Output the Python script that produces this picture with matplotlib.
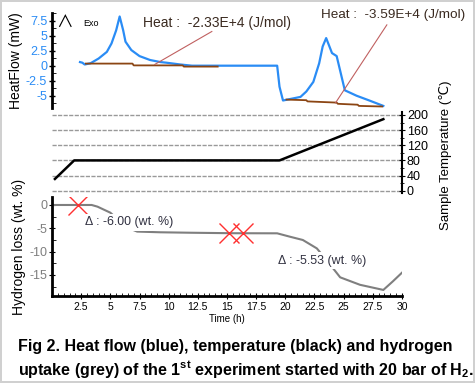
import numpy as np
import matplotlib
matplotlib.use("Agg")
import matplotlib.pyplot as plt
from matplotlib.ticker import MultipleLocator, FuncFormatter

plt.rcParams['font.family'] = ['Liberation Sans', 'DejaVu Sans']
plt.rcParams['axes.unicode_minus'] = False
plt.rcParams['mathtext.fontset'] = 'custom'
plt.rcParams['mathtext.bf'] = 'Liberation Sans:bold'
plt.rcParams['mathtext.rm'] = 'Liberation Sans'

# heat flow (mW) vs time (h)
heat_t = [2.4, 2.6, 2.8, 3.3, 4.0, 4.7, 5.1, 5.5, 5.8, 6.1, 6.3, 6.8, 7.5, 8.4, 9.3, 9.8, 11.0, 12.0,
          19.3, 19.5, 19.8, 21.3, 21.8, 22.4, 22.9, 23.2, 23.5, 23.7, 24.0, 24.4, 25.1, 26.1, 27.2, 28.4]
heat_v = [0.6, 0.5, 0.2, 0.4, 1.2, 2.3, 3.7, 5.9, 8.2, 5.9, 4.0, 2.6, 1.6, 0.95, 0.6, 0.5, 0.2, 0.0,
          0.0, -3.5, -5.8, -5.2, -4.3, -2.7, 0.4, 3.2, 4.6, 3.6, 2.1, 1.6, -4.1, -5.0, -5.8, -6.7]
# integration baselines
base1_t = [2.9, 6.9, 7.0, 11.2, 11.3, 14.2]
base1_v = [0.35, 0.35, 0.05, 0.05, -0.15, -0.15]
base2_t = [20.1, 21.8, 21.9, 24.4, 24.5, 26.2, 26.3, 28.3]
base2_v = [-5.65, -5.75, -5.95, -6.15, -6.35, -6.5, -6.7, -6.8]
heat_labels = ["Heat :  -2.33E+4 (J/mol)", "Heat :  -3.59E+4 (J/mol)"]

# sample temperature
temp_t = [0.25, 1.9, 19.5, 28.4]
temp_v = [31, 80, 80, 189]

# hydrogen loss (wt. %)
h2_t = [0.0, 3.4, 3.9, 5.0, 5.6, 6.2, 6.8, 7.3, 9.3, 12.0, 15.5, 19.3, 20.4, 21.5, 22.7,
        23.2, 23.7, 24.1, 24.7, 26.4, 28.4, 29.2, 30.0]
h2_v = [0.0, 0.0, -0.36, -1.65, -3.0, -4.3, -5.2, -5.7, -5.85, -5.95, -6.05, -6.07, -6.8, -7.5, -9.3,
        -10.8, -12.5, -13.6, -15.5, -17.1, -18.2, -16.4, -14.5]
mark_t = [2.2, 15.2, 16.4]
mark_v = [0.0, -6.05, -6.05]
delta_labels = ["\u0394 : -6.00 (wt. %)", "\u0394 : -5.53 (wt. %)"]

W, H = 475, 383
fig = plt.figure(figsize=(W / 100, H / 100), dpi=100)
fig.patch.set_edgecolor('#d0d0d0')
fig.patch.set_linewidth(1.5)


def px_axes(x0, y0, x1, y1):
    return fig.add_axes([x0 / W, 1 - y1 / H, (x1 - x0) / W, (y1 - y0) / H])


fmt = FuncFormatter(lambda v, p: '{:g}'.format(v))
blue = '#2a8cf5'

# ---- heat flow
ax1 = px_axes(52, 13, 402, 108)
ax1.patch.set_visible(False)
ax1.plot(heat_t, heat_v, color=blue, lw=1.6)
ax1.plot(base1_t, base1_v, color='#8b4513', lw=1.3)
ax1.plot(base2_t, base2_v, color='#8b4513', lw=1.3)
ax1.plot([8.8, 13.7], [0.2, 5.7], color='#c06060', lw=0.8)
ax1.plot([24.3, 28.7], [-6.2, 6.8], color='#c06060', lw=0.8)
ax1.text(7.8, 7.1, heat_labels[0], fontsize=10, color='#3a2a20', va='center')
ax1.text(23.1, 8.45, heat_labels[1], fontsize=9.7, color='#3a2a20', va='center')
ax1.text(0.35, 7.1, '\u2227', fontsize=12, va='center', family=['Noto Sans CJK JP', 'DejaVu Sans'])
ax1.text(2.65, 7.1, 'Exo', fontsize=6.5, va='center')
ax1.set_xlim(0, 30)
ax1.set_ylim(-7.05, 8.78)
ax1.yaxis.set_minor_locator(MultipleLocator(1.25))
ax1.yaxis.set_major_formatter(fmt)
ax1.set_yticks([-5, -2.5, 0, 2.5, 5, 7.5])
ax1.tick_params(axis='y', which='major', direction='inout', length=5, width=1, labelsize=9, labelcolor=blue, pad=1)
ax1.tick_params(axis='y', which='minor', direction='in', length=3)
ax1.set_xticks([])
for s in ['top', 'right', 'bottom']:
    ax1.spines[s].set_visible(False)
ax1.spines['left'].set_linewidth(2)
ax1.set_ylabel('HeatFlow (mW)', fontsize=10, labelpad=2)

# ---- temperature
ax2 = px_axes(52, 112, 402, 193)
ax2.patch.set_visible(False)
ax2.plot(temp_t, temp_v, color='black', lw=1.8)
ax2.set_xlim(0, 30)
ax2.set_ylim(-6.1, 207.9)
ax2.yaxis.tick_right()
ax2.set_yticks([0, 40, 80, 120, 160, 200])
ax2.yaxis.set_minor_locator(MultipleLocator(20))
ax2.yaxis.grid(True, which='major', color='#999999', ls=(0, (3, 1)), lw=1)
ax2.tick_params(axis='y', which='major', direction='inout', length=5, labelsize=9, pad=1)
ax2.tick_params(axis='y', which='minor', direction='inout', length=3)
ax2.set_xticks([])
for s in ['top', 'left', 'bottom']:
    ax2.spines[s].set_visible(False)
ax2.spines['right'].set_linewidth(1.5)
ax2.text(1.123, 0.47, 'Sample Temperature (\u2103)', transform=ax2.transAxes, rotation=90,
         fontsize=9.5, ha='center', va='center')

# ---- hydrogen loss
ax3 = px_axes(52, 197, 402, 296)
ax3.patch.set_visible(False)
ax3.plot(h2_t, h2_v, color='#7f7f7f', lw=1.5)
ax3.plot(mark_t, mark_v, ls='none', marker='x', ms=14, mew=1, color='#ff3030')
ax3.text(2.8, -3.7, delta_labels[0], fontsize=8.9, color='#303040', va='center',
         bbox=dict(facecolor='white', edgecolor='none', pad=2))
ax3.text(19.4, -11.9, delta_labels[1], fontsize=8.9, color='#303040', va='center',
         bbox=dict(facecolor='white', edgecolor='none', pad=2))
ax3.set_xlim(0, 30)
ax3.set_ylim(-19.5, 1.71)
ax3.set_xticks(np.arange(2.5, 30.1, 2.5))
ax3.xaxis.set_major_formatter(fmt)
ax3.xaxis.set_minor_locator(MultipleLocator(0.5))
ax3.set_yticks([0, -5, -10, -15])
ax3.yaxis.set_minor_locator(MultipleLocator(2.5))
ax3.tick_params(axis='x', which='major', direction='inout', length=5, labelsize=7.5, pad=2)
ax3.tick_params(axis='x', which='minor', direction='in', length=2.5)
ax3.tick_params(axis='y', which='major', direction='inout', length=5, labelsize=9, labelcolor='#7f7f7f', pad=1)
ax3.tick_params(axis='y', which='minor', direction='in', length=3)
for s in ['top', 'right']:
    ax3.spines[s].set_visible(False)
ax3.spines['left'].set_linewidth(2)
ax3.spines['bottom'].set_linewidth(2)
ax3.set_ylabel('Hydrogen loss (wt. %)', fontsize=10, labelpad=2)
ax3.set_xlabel('Time (h)', fontsize=7, labelpad=1)

# ---- caption
fig.text(18 / W, 1 - 346 / H, 'Fig 2. Heat flow (blue), temperature (black) and hydrogen',
         fontsize=11.5, fontweight='bold', va='center')
fig.text(18 / W, 1 - 370 / H,
         r'uptake (grey) of the 1$^{\mathbf{st}}$ experiment started with 20 bar of H$_{\mathbf{2}}$.',
         fontsize=11.5, fontweight='bold', va='center')

fig.savefig('out.png', dpi=100, edgecolor=fig.get_edgecolor())
